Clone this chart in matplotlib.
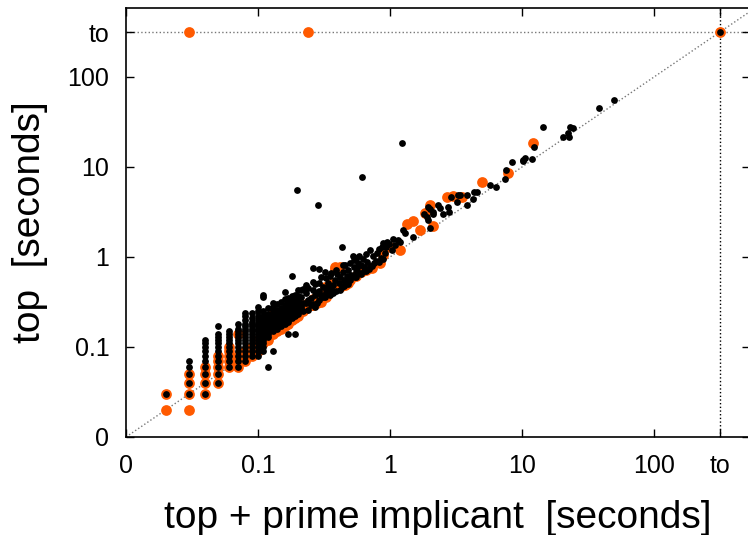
import matplotlib.pyplot as plt

plt.rcParams['font.family'] = ['Liberation Sans', 'DejaVu Sans']

TO = 316.0  # timeout position on both axes

# small times are quantized at 0.01 s -> columns of points
black_cols_x = [0.02, 0.03, 0.04, 0.05, 0.06, 0.07, 0.08, 0.09, 0.10,
                0.11, 0.12, 0.13, 0.14, 0.15, 0.16, 0.17, 0.18, 0.19, 0.20]
black_cols_y = [
    [0.03],
    [0.03, 0.04, 0.05, 0.06, 0.07],
    [0.03, 0.04, 0.05, 0.06, 0.07, 0.08, 0.09, 0.10, 0.11, 0.12],
    [0.04, 0.05, 0.06, 0.07, 0.08, 0.09, 0.10, 0.11, 0.12, 0.13, 0.14, 0.17],
    [0.06, 0.07, 0.08, 0.09, 0.10, 0.11, 0.12, 0.13, 0.14, 0.15],
    [0.06, 0.07, 0.08, 0.09, 0.10, 0.11, 0.12, 0.13, 0.14, 0.15, 0.16, 0.18],
    [0.07, 0.08, 0.09, 0.10, 0.11, 0.12, 0.13, 0.14, 0.15, 0.16, 0.17, 0.18, 0.20, 0.22, 0.24],
    [0.08, 0.09, 0.10, 0.11, 0.12, 0.13, 0.14, 0.15, 0.16, 0.17, 0.18, 0.19, 0.21, 0.24],
    [0.08, 0.09, 0.10, 0.11, 0.12, 0.13, 0.14, 0.15, 0.16, 0.17, 0.18, 0.20, 0.22, 0.25, 0.28],
    [0.09, 0.10, 0.11, 0.12, 0.13, 0.14, 0.15, 0.16, 0.18, 0.20, 0.22, 0.25, 0.36, 0.38],
    [0.06, 0.13, 0.14, 0.15, 0.17, 0.19, 0.21, 0.23, 0.27],
    [0.09, 0.15, 0.16, 0.18, 0.20, 0.22, 0.25, 0.28, 0.31],
    [0.16, 0.17, 0.19, 0.21, 0.23, 0.26, 0.30],
    [0.17, 0.18, 0.20, 0.22, 0.24, 0.27, 0.32],
    [0.18, 0.19, 0.21, 0.23, 0.26, 0.29, 0.34, 0.41],
    [0.14, 0.19, 0.20, 0.22, 0.24, 0.27, 0.31, 0.35],
    [0.21, 0.24, 0.27, 0.30, 0.34, 0.37, 0.61],
    [0.14, 0.22, 0.25, 0.28, 0.32, 0.38],
    [0.23, 0.26, 0.29, 0.33, 0.37, 0.43],
]

# black points above 0.2 s
black_x = [0.22, 0.23, 0.21, 0.21, 0.22, 0.23, 0.24, 0.25, 0.25, 0.26,
           0.26, 0.26, 0.27, 0.28, 0.28, 0.29, 0.29, 0.30, 0.31, 0.33,
           0.34, 0.35, 0.35, 0.36, 0.37, 0.40, 0.42, 0.43, 0.44, 0.45,
           0.46, 0.46, 0.48, 0.50, 0.50, 0.52, 0.53, 0.55, 0.55, 0.55,
           0.58, 0.60, 0.60, 0.63, 0.66, 0.66, 0.69, 0.71, 0.73, 0.78,
           0.82, 0.82, 0.87, 0.88, 0.88, 0.95, 0.98, 1.03, 1.05, 1.15,
           0.21, 0.22, 0.23, 0.24, 0.24, 0.26, 0.27, 0.27, 0.29, 0.29,
           0.30, 0.31, 0.32, 0.32, 0.33, 0.34, 0.35, 0.36, 0.37, 0.38,
           0.39, 0.39, 0.41, 0.42, 0.43, 0.44, 0.45, 0.47, 0.48, 0.49,
           0.51, 0.53, 0.54, 0.56, 0.57, 0.59, 0.62, 0.64, 0.67, 0.70,
           0.74, 0.76, 0.80, 0.85, 0.92, 0.93, 1.1, 1.2]
black_y = [0.44, 0.49, 0.43, 0.28, 0.31, 0.31, 0.26, 0.35, 0.29, 0.75,
           0.43, 0.53, 0.38, 0.40, 0.31, 0.74, 0.33, 0.60, 0.36, 0.58,
           0.45, 0.40, 0.38, 0.66, 0.49, 0.65, 0.43, 1.29, 0.68, 0.55,
           0.81, 0.50, 0.50, 0.86, 0.56, 1.03, 0.77, 0.97, 0.68, 0.60,
           1.03, 0.81, 0.64, 0.70, 1.08, 0.70, 0.74, 1.20, 0.80, 0.90,
           1.23, 0.88, 1.29, 1.43, 0.95, 1.47, 1.39, 1.20, 1.58, 1.55,
           0.36, 0.25, 0.40, 0.33, 0.45, 0.30, 0.50, 0.28, 0.42, 0.52,
           0.38, 0.46, 0.68, 0.36, 0.41, 0.52, 0.62, 0.45, 0.40, 0.56,
           0.42, 0.72, 0.52, 0.60, 0.47, 0.82, 0.48, 0.62, 0.72, 0.56,
           0.63, 0.92, 0.60, 0.75, 0.86, 0.66, 0.95, 0.78, 0.88, 0.80,
           1.02, 0.86, 1.10, 0.98, 1.12, 1.30, 1.35, 1.45]

black_hi_x = [1.25, 1.30, 1.49, 1.8, 1.9, 1.94, 1.95, 2.0, 2.0, 2.1, 2.1,
              2.3, 2.4, 2.5, 2.75, 2.8, 2.9, 3.2, 3.3, 3.4, 3.8, 3.8, 4.25,
              4.3, 4.6, 5.7, 6.3, 7.4, 7.6, 8.4, 10.2, 10.2, 10.5, 11.9,
              12.3, 14.4, 20.5, 22.3, 22.7, 23.1, 24.3, 38, 50,
              0.197, 0.285, 0.61, 1.23, TO]
black_hi_y = [2.0, 1.84, 1.67, 3.0, 2.8, 3.6, 2.6, 3.4, 2.1, 3.2, 3.0,
              3.8, 3.5, 3.0, 3.6, 3.2, 4.6, 4.1, 4.9, 4.9, 4.9, 3.8, 4.4,
              5.3, 5.3, 6.3, 6.0, 7.4, 9.3, 11.4, 12.0, 11.7, 12.6, 12.3,
              16.7, 27.8, 21.5, 23.9, 21.5, 27.8, 27.1, 45, 55,
              5.5, 3.78, 7.7, 18.5, TO]

orange_cols_x = [0.02, 0.03, 0.04, 0.05, 0.06, 0.07, 0.08, 0.09, 0.10,
                 0.11, 0.12, 0.13, 0.14, 0.15, 0.16, 0.17, 0.18, 0.19, 0.20]
orange_cols_y = [
    [0.02, 0.03],
    [0.02, 0.03, 0.04, 0.05],
    [0.03, 0.04, 0.05, 0.06],
    [0.04, 0.05, 0.06, 0.07, 0.08],
    [0.06, 0.07, 0.08, 0.09, 0.10],
    [0.06, 0.07, 0.08, 0.14],
    [0.07, 0.08, 0.09],
    [0.08, 0.09, 0.10],
    [0.09, 0.10, 0.11, 0.12],
    [0.11, 0.12, 0.14, 0.20],
    [0.12, 0.14, 0.16, 0.19],
    [0.14, 0.15, 0.17, 0.23],
    [0.15, 0.16, 0.18],
    [0.16, 0.17, 0.19, 0.22],
    [0.17, 0.18, 0.21, 0.24],
    [0.18, 0.20, 0.22],
    [0.20, 0.21, 0.23],
    [0.21, 0.23, 0.26],
    [0.22, 0.24, 0.32],
]

orange_x = [0.21, 0.22, 0.22, 0.23, 0.24, 0.25, 0.26, 0.26, 0.27, 0.28,
            0.29, 0.30, 0.31, 0.32, 0.33, 0.34, 0.36, 0.37, 0.38, 0.38,
            0.40, 0.42, 0.42, 0.44, 0.46, 0.48, 0.50, 0.55, 0.60, 0.66,
            0.73, 0.84, 0.88, 1.0, 1.19, 1.35, 1.49, 1.69, 1.84, 2.0,
            2.1, 2.7, 3.0, 3.5, 5.0, 7.8, 12.1,
            0.03, 0.24, TO]
orange_y = [0.26, 0.25, 0.28, 0.27, 0.31, 0.29, 0.34, 0.29, 0.33, 0.31,
            0.36, 0.32, 0.38, 0.46, 0.36, 0.40, 0.44, 0.51, 0.77, 0.73,
            0.46, 0.77, 0.46, 0.52, 0.49, 0.52, 0.55, 0.62, 0.68, 0.72,
            0.75, 0.86, 1.05, 1.29, 1.2, 2.3, 2.5, 2.0, 3.1, 3.8,
            2.2, 4.6, 4.8, 4.6, 6.8, 8.6, 18.5,
            TO, TO, TO]

tick_vals = [0.01, 0.1, 1, 10, 100, TO]
tick_labels = ['0', '0.1', '1', '10', '100', 'to']

bx, by = [], []
for x, ys in zip(black_cols_x, black_cols_y):
    bx += [x] * len(ys)
    by += ys
bx += black_x + black_hi_x
by += black_y + black_hi_y

ox, oy = [], []
for x, ys in zip(orange_cols_x, orange_cols_y):
    ox += [x] * len(ys)
    oy += ys
ox += orange_x
oy += orange_y

fig = plt.figure(figsize=(7.48, 5.35), dpi=100)
ax = fig.add_axes([126/748, 98/535, 624/748, 429/535])
ax.set_xscale('log')
ax.set_yscale('log')
xmax = 10**(624/132 - 2)
ymax = 10**(429/90 - 2)
ax.set_xlim(0.01, xmax)
ax.set_ylim(0.01, ymax)

ax.plot([0.01, 2000], [0.01, 2000], color='#777777', ls=':', lw=1, zorder=1)
ax.plot([0.01, xmax], [TO, TO], color='#777777', ls=':', lw=1, zorder=1)
ax.plot([TO, TO], [0.01, ymax], color='black', ls=':', lw=1, zorder=1)

ax.scatter(ox, oy, s=60, c='#ff5a00', linewidths=0, zorder=3)
ax.scatter(bx, by, s=24, c='black', linewidths=0, zorder=4)

ax.set_xticks(tick_vals)
ax.set_xticklabels(tick_labels)
ax.set_yticks(tick_vals)
ax.set_yticklabels(tick_labels)
ax.minorticks_off()
ax.tick_params(direction='in', top=True, right=True, length=6, width=1,
               labelsize=18)
ax.tick_params(axis='x', pad=12)
ax.tick_params(axis='y', pad=12)
for s in ax.spines.values():
    s.set_linewidth(1.2)

ax.set_xlabel('top + prime implicant  [seconds]', fontsize=28, labelpad=16)
ax.set_ylabel('top  [seconds]', fontsize=28, labelpad=14)

fig.savefig('out.png', dpi=100)
